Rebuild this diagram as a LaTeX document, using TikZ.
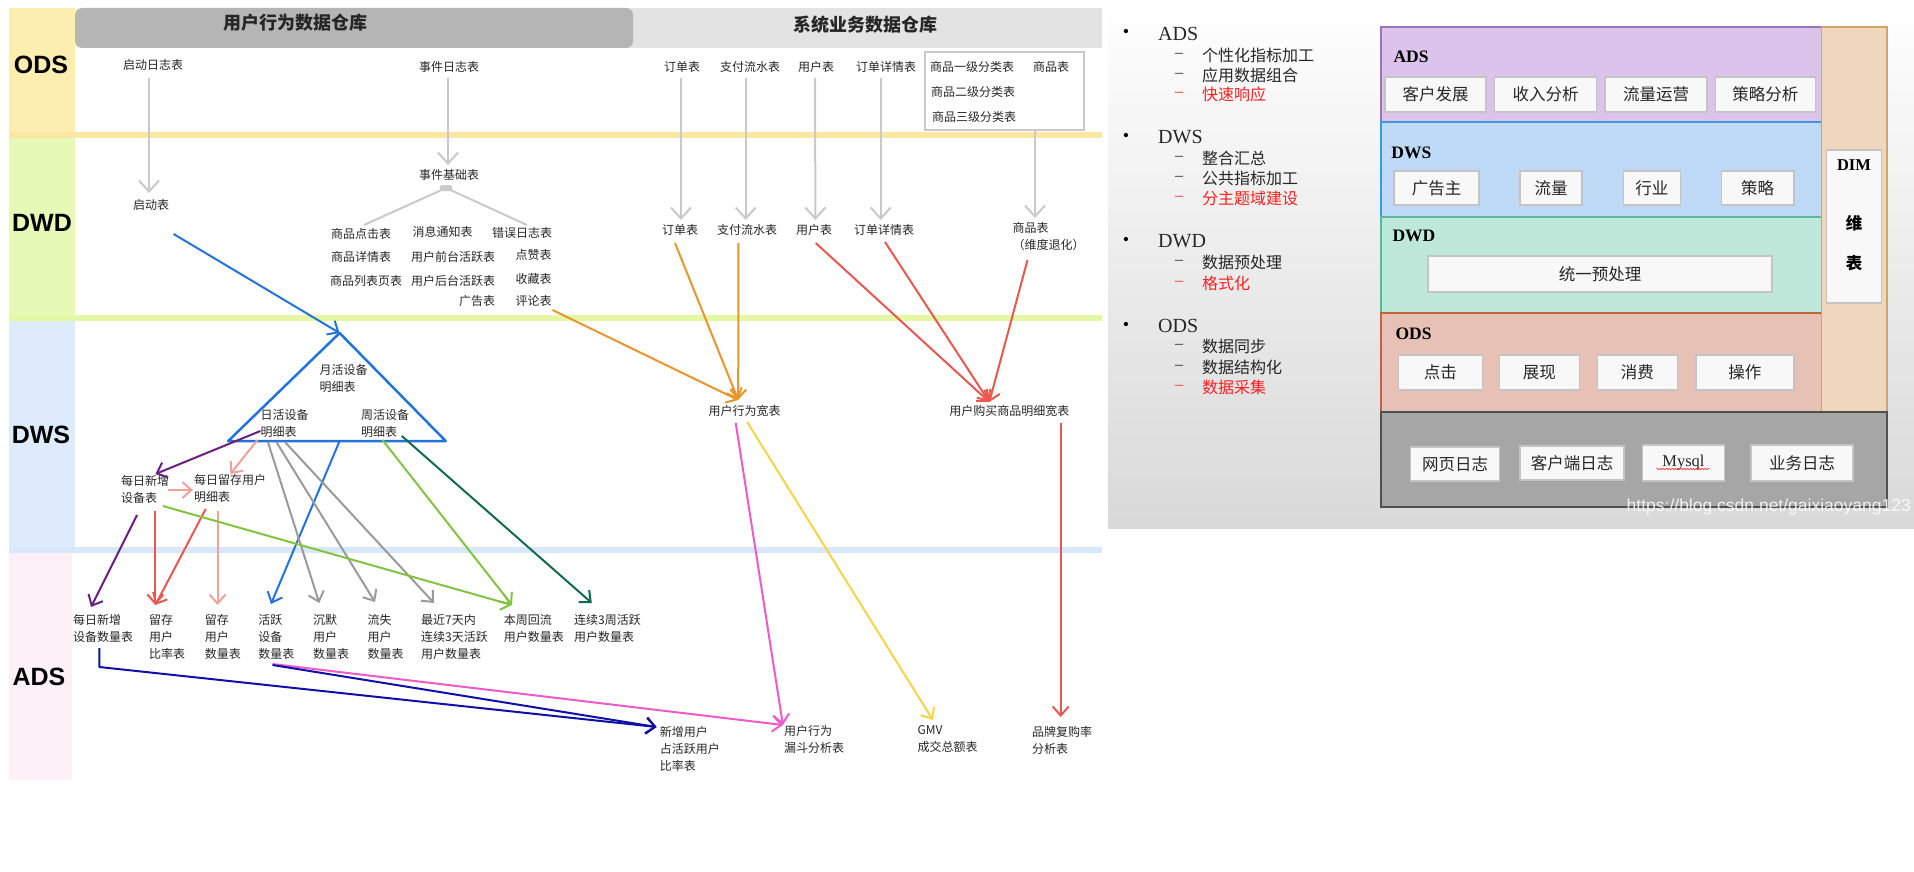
\documentclass[tikz,border=0pt]{standalone}
\usepackage{fontspec}
\setmainfont{Noto Sans CJK SC}
\newfontfamily\lsans{Liberation Sans}
\newfontfamily\lserif{Liberation Serif}
\usetikzlibrary{arrows.meta,decorations.pathmorphing,calc}
\definecolor{cgray}{HTML}{C9C9C9}
\definecolor{cgray2}{HTML}{9A9A9A}
\definecolor{cblue}{HTML}{2274DD}
\definecolor{cpurple}{HTML}{6B1F7F}
\definecolor{csalmon}{HTML}{F4A09A}
\definecolor{cred}{HTML}{E8584F}
\definecolor{cgreen}{HTML}{82C341}
\definecolor{cdkgreen}{HTML}{0E6B4C}
\definecolor{corange}{HTML}{E8952C}
\definecolor{cpink}{HTML}{EE5BC8}
\definecolor{cyellow}{HTML}{F5D547}
\definecolor{cnavy}{HTML}{1010A8}
\definecolor{bandods}{HTML}{FCEDB0}
\definecolor{banddwd}{HTML}{E6F9B6}
\definecolor{banddws}{HTML}{DDEBFA}
\definecolor{bandads}{HTML}{FDF0F6}
\definecolor{sepods}{HTML}{FAE7A1}
\definecolor{sepdwd}{HTML}{E3F7A5}
\definecolor{sepdws}{HTML}{D7E8FA}
\definecolor{hdark}{HTML}{B5B5B5}
\definecolor{hlight}{HTML}{E3E3E3}
\definecolor{lads}{HTML}{DCC3EC}
\definecolor{ladsb}{HTML}{9B72C0}
\definecolor{ldws}{HTML}{BFDAF6}
\definecolor{ldwsb}{HTML}{3D9AD8}
\definecolor{ldwd}{HTML}{BDE8DA}
\definecolor{ldwdb}{HTML}{5CB89C}
\definecolor{lods}{HTML}{E8C1B6}
\definecolor{lodsb}{HTML}{C0643A}
\definecolor{lsrc}{HTML}{A6A6A6}
\definecolor{lsrcb}{HTML}{505050}
\definecolor{ldim}{HTML}{EFD6BD}
\definecolor{ldimb}{HTML}{D2A465}
\definecolor{boxf}{HTML}{F8F8F8}
\definecolor{boxb}{HTML}{C4C4C4}
\definecolor{txtred}{HTML}{FF2020}
\tikzset{
  lbl/.style={font=\fontsize{12}{17}\selectfont, inner sep=3pt, text=black!85, align=left},
  layerlbl/.style={font=\lsans\bfseries\fontsize{25}{25}\selectfont, inner sep=0pt},
  hdr/.style={font=\bfseries\fontsize{18}{18}\selectfont, inner sep=0pt, text=black!85},
  garrow/.style={draw=cgray, line width=2pt, -{Straight Barb[length=11pt,width=20pt]}},
  carrow/.style={line width=2pt, -{Straight Barb[length=9pt,width=16pt]}},
  treeline/.style={draw=cgray, line width=2pt},
  sep/.style={line width=6pt},
  bul/.style={font=\lserif\fontsize{18}{18}\selectfont, inner sep=0pt},
  bhead/.style={font=\lserif\fontsize{20}{20}\selectfont, inner sep=0pt, anchor=west, text=black!85},
  bitem/.style={font=\fontsize{16}{16}\selectfont, inner sep=0pt, anchor=west, text=black!85},
  dsh/.style={font=\lserif\fontsize{16}{16}\selectfont, inner sep=0pt, text=black!85},
  llbl/.style={font=\lserif\bfseries\fontsize{17.5}{17.5}\selectfont, inner sep=0pt, anchor=west},
  ibox/.style={draw=boxb, fill=boxf, line width=1.5pt, inner sep=0pt, font=\fontsize{16.5}{16.5}\selectfont, text=black!85},
}
\begin{document}
\begin{tikzpicture}[x=1pt,y=-1pt]
\useasboundingbox (0,0) rectangle (1914,872);
\clip (0,0) rectangle (1914,872);
% ---------------- left diagram: bands ----------------
\fill[bandods] (9,8) rectangle (75,135);
\fill[banddwd] (9,135) rectangle (75,318);
\fill[banddws] (9,318) rectangle (75,550);
\fill[bandads] (9,550) rectangle (72,780);
\draw[sep, sepods] (9,135) -- (1102,135);
\draw[sep, sepdwd] (9,318) -- (1102,318);
\draw[sep, sepdws] (9,550) -- (1102,550);
\node[layerlbl] (lODS) at (41,65) {ODS};
\node[layerlbl] (lDWD) at (42,223) {DWD};
\node[layerlbl] (lDWS) at (41,435) {DWS};
\node[layerlbl] (lADS) at (39,677) {ADS};
% header bars
\fill[hlight] (620,8) rectangle (1102,48);
\fill[hdark, rounded corners=7pt] (75,8) rectangle (633,48);
\node[hdr] (h1) at (295,23) {用户行为数据仓库};
\node[hdr] (h2) at (865,25) {系统业务数据仓库};
% ---------------- ODS ----------------
\node[lbl] (o_qd) at (153,65) {启动日志表};
\node[lbl] (o_sj) at (449,67) {事件日志表};
\node[lbl] (o_dd) at (682,67) {订单表};
\node[lbl] (o_zf) at (750,67) {支付流水表};
\node[lbl] (o_yh) at (816,67) {用户表};
\node[lbl] (o_xq) at (886,67) {订单详情表};
\node[draw=cgray, line width=2pt, minimum width=159pt, minimum height=78pt, inner sep=0pt] (o_box) at (1004,91) {};
\node[lbl] (o_c1) at (972,67) {商品一级分类表};
\node[lbl] (o_sp) at (1051,67) {商品表};
\node[lbl] (o_c2) at (973,92) {商品二级分类表};
\node[lbl] (o_c3) at (974,117) {商品三级分类表};
% ---------------- DWD ----------------
\node[lbl] (d_qd) at (151,205) {启动表};
\node[lbl] (d_sj) at (449,175) {事件基础表};
\node[fill=cgray, inner sep=0pt, minimum width=13pt, minimum height=6pt, rounded corners=3pt] (blob) at (446,188) {};
\node[lbl] (e1) at (361,234) {商品点击表};
\node[lbl] (e2) at (442.5,232) {消息通知表};
\node[lbl] (e3) at (522,233) {错误日志表};
\node[lbl] (e4) at (361,257) {商品详情表};
\node[lbl] (e5) at (453,257) {用户前台活跃表};
\node[lbl] (e6) at (533.5,255) {点赞表};
\node[lbl] (e7) at (366,281) {商品列表页表};
\node[lbl] (e8) at (453,281) {用户后台活跃表};
\node[lbl] (e9) at (533.5,279) {收藏表};
\node[lbl] (e10) at (477,301) {广告表};
\node[lbl] (e11) at (533.5,301) {评论表};
\node[lbl] (d_dd) at (680,230) {订单表};
\node[lbl] (d_zf) at (747,230) {支付流水表};
\node[lbl] (d_yh) at (814,230) {用户表};
\node[lbl] (d_xq) at (884,230) {订单详情表};
\node[lbl, anchor=north west] (d_sp) at (1009.5,219.5) {商品表\\（维度退化）};
% ---------------- DWS ----------------
\coordinate (tA) at (339.6,333);
\coordinate (tB) at (228.2,441);
\coordinate (tC) at (445.7,441);
\coordinate (tM) at (339.6,441);
\draw[cblue, line width=2.5pt, line join=round] (tA) -- (tB) -- (tC) -- cycle;
\node[lbl, anchor=west] (s_mon) at (316.3,378) {月活设备\\明细表};
\node[lbl, anchor=west] (s_day) at (257.4,423) {日活设备\\明细表};
\node[lbl, anchor=west] (s_week) at (358,423) {周活设备\\明细表};
\node[lbl, anchor=west] (s_new) at (118,489.5) {每日新增\\设备表};
\node[lbl, anchor=west] (s_keep) at (191,488.5) {每日留存用户\\明细表};
\node[lbl] (w_beh) at (744.6,411) {用户行为宽表};
\node[lbl] (w_buy) at (1009.3,411) {用户购买商品明细宽表};
% ---------------- ADS ----------------
\node[lbl, anchor=north west] (a1) at (69.9,611) {每日新增\\设备数量表};
\node[lbl, anchor=north west] (a2) at (145.9,611) {留存\\用户\\比率表};
\node[lbl, anchor=north west] (a3) at (201.6,611) {留存\\用户\\数量表};
\node[lbl, anchor=north west] (a4) at (255.2,611) {活跃\\设备\\数量表};
\node[lbl, anchor=north west] (a5) at (309.9,611) {沉默\\用户\\数量表};
\node[lbl, anchor=north west] (a6) at (364.5,611) {流失\\用户\\数量表};
\node[lbl, anchor=north west] (a7) at (418,611) {最近7天内\\连续3天活跃\\用户数量表};
\node[lbl, anchor=north west] (a8) at (500.6,611) {本周回流\\用户数量表};
\node[lbl, anchor=north west] (a9) at (570.9,611) {连续3周活跃\\用户数量表};
\node[lbl, anchor=north west] (a10) at (656.6,723) {新增用户\\占活跃用户\\比率表};
\node[lbl, anchor=north west] (a11) at (780.9,722) {用户行为\\漏斗分析表};
\node[lbl, anchor=north west] (a12) at (914.5,722) {GMV\\成交总额表};
\node[lbl, anchor=north west] (a13) at (1029,723) {品牌复购率\\分析表};
% ---------------- connectors ----------------
\draw[garrow] ([xshift=-4pt,yshift=-13pt]o_qd.center) -- ([xshift=-2pt,yshift=12pt]d_qd.center);
\draw[garrow] ([xshift=-1pt,yshift=-11pt]o_sj.center) -- ([xshift=-1pt,yshift=10pt]d_sj.center);
\draw[garrow] ([xshift=-1pt,yshift=-11pt]o_dd.center) -- ([xshift=1pt,yshift=10pt]d_dd.center);
\draw[garrow] ([xshift=-4.3pt,yshift=-11pt]o_zf.center) -- ([xshift=-1.3pt,yshift=10pt]d_zf.center);
\draw[garrow] ([xshift=-1pt,yshift=-11pt]o_yh.center) -- ([xshift=1.4pt,yshift=10pt]d_yh.center);
\draw[garrow] ([xshift=-5.3pt,yshift=-11pt]o_xq.center) -- ([xshift=-3.3pt,yshift=10pt]d_xq.center);
\draw[garrow] ([xshift=31pt]o_box.south) -- ([xshift=25.5pt,yshift=1.5pt]d_sp.north west);
\draw[treeline] (blob.center) -- ([xshift=3pt,yshift=9pt]e1.center);
\draw[treeline] (blob.center) -- ([xshift=5pt,yshift=8pt]e3.center);
% blue
\draw[carrow, cblue] ([xshift=22.6pt,yshift=-29pt]d_qd.center) -- (tA);
\draw[carrow, cblue] (tM) -- ([xshift=15.8pt,yshift=7pt]a4.north west);
% purple
\draw[carrow, cpurple] ([xshift=3pt,yshift=-8pt]s_day.west) -- ([xshift=37.4pt,yshift=15.5pt]s_new.west);
\draw[carrow, cpurple] ([xshift=19.1pt,yshift=-25.5pt]s_new.west) -- ([xshift=21.1pt,yshift=4pt]a1.north west);
% salmon
\draw[carrow, csalmon] ([yshift=-17pt]s_day.west) -- ([xshift=39.4pt,yshift=14.5pt]s_keep.west);
\draw[carrow, csalmon] ([xshift=50.2pt,yshift=-0.5pt]s_new.west) -- ([xshift=1.9pt,yshift=-1.5pt]s_keep.west);
\draw[carrow, csalmon] ([xshift=26.5pt,yshift=-22.5pt]s_keep.west) -- ([xshift=15.9pt,yshift=6pt]a3.north west);
% red (left)
\draw[carrow, cred] ([xshift=37.4pt,yshift=-21.5pt]s_new.west) -- ([xshift=9.5pt,yshift=6pt]a2.north west);
\draw[carrow, cred] ([xshift=14.7pt,yshift=-20.5pt]s_keep.west) -- ([xshift=9.5pt,yshift=6pt]a2.north west);
% gray
\draw[carrow, cgray2] ([xshift=10.5pt,yshift=-19pt]s_day.west) -- ([xshift=9.4pt,yshift=8pt]a5.north west);
\draw[carrow, cgray2] ([xshift=19pt,yshift=-19pt]s_day.west) -- ([xshift=10.5pt,yshift=9pt]a6.north west);
\draw[carrow, cgray2] ([xshift=27.6pt,yshift=-19pt]s_day.west) -- ([xshift=16pt,yshift=8pt]a7.north west);
% green
\draw[carrow, cgreen] ([xshift=24.5pt,yshift=-17pt]s_week.west) -- ([xshift=11.4pt,yshift=6pt]a8.north west);
\draw[carrow, cgreen] ([xshift=44.9pt,yshift=-16.5pt]s_new.west) -- ([xshift=11.4pt,yshift=6pt]a8.north west);
\draw[carrow, cdkgreen] ([xshift=43.8pt,yshift=-13pt]s_week.west) -- ([xshift=20.9pt,yshift=8pt]a9.north west);
% orange
\draw[carrow, corange] ([xshift=-5pt,yshift=-13pt]d_dd.center) -- ([xshift=-6.4pt,yshift=11pt]w_beh.center);
\draw[carrow, corange] ([xshift=-8.6pt,yshift=-13pt]d_zf.center) -- ([xshift=-6.4pt,yshift=11pt]w_beh.center);
\draw[carrow, corange] ([xshift=19pt,yshift=-9pt]e11.center) -- ([xshift=-6.4pt,yshift=11pt]w_beh.center);
% red (right)
\draw[carrow, cred] ([xshift=1.7pt,yshift=-13pt]d_yh.center) -- ([xshift=-20pt,yshift=9pt]w_buy.center);
\draw[carrow, cred] ([xshift=1pt,yshift=-12pt]d_xq.center) -- ([xshift=-20pt,yshift=9pt]w_buy.center);
\draw[carrow, cred] ([xshift=18pt,yshift=-40.5pt]d_sp.north west) -- ([xshift=-20pt,yshift=9pt]w_buy.center);
\draw[carrow, cred] ([xshift=51.4pt,yshift=-12pt]w_buy.center) -- ([xshift=31.7pt,yshift=6pt]a13.north west);
% pink, yellow, navy
\draw[carrow, cpink] ([xshift=-8.9pt,yshift=-12pt]w_beh.center) -- ([xshift=2pt,yshift=-3pt]a11.north west);
\draw[carrow, cpink] ([xshift=17.3pt,yshift=-53pt]a4.north west) -- ([xshift=2pt,yshift=-3pt]a11.north west);
\draw[carrow, cyellow] ([xshift=2.5pt,yshift=-11pt]w_beh.center) -- ([xshift=18.4pt,yshift=2pt]a12.north west);
\draw[carrow, cnavy, line join=round] ([xshift=29.4pt,yshift=-37pt]a1.north west) -- ++(0,19) -- ([yshift=-4pt]a10.north west);
\draw[carrow, cnavy] ([xshift=17.3pt,yshift=-54pt]a4.north west) -- ([yshift=-4pt]a10.north west);
% ---------------- right panel ----------------
\shade[top color=white, bottom color=black!15] (1108,0) rectangle (1914,528);
% bullet list
\node[bul] (b1) at (1126,33) {•};
\node[bhead] (bh1) at (1158,34) {ADS};
\node[bul] (b2) at (1126,137) {•};
\node[bhead] (bh2) at (1158,137) {DWS};
\node[bul] (b3) at (1126,241) {•};
\node[bhead] (bh3) at (1158,241) {DWD};
\node[bul] (b4) at (1126,326) {•};
\node[bhead] (bh4) at (1158,326) {ODS};
\foreach \y/\t/\c/\n in {55/个性化指标加工/black!85/i1, 75/应用数据组合/black!85/i2, 94/快速响应/txtred/i3,
  158/整合汇总/black!85/i4, 178/公共指标加工/black!85/i5, 198/分主题域建设/txtred/i6,
  262/数据预处理/black!85/i7, 283/格式化/txtred/i8,
  346/数据同步/black!85/i9, 367/数据结构化/black!85/i10, 387/数据采集/txtred/i11}{
  \node[dsh, text=\c] (d\n) at (1179,\y) {–};
  \node[bitem, text=\c] (\n) at (1202,\y) {\t};
}
% layer boxes
\draw[fill=lads, draw=ladsb, line width=1.5pt] (1381,27) rectangle (1821.5,122);
\draw[fill=ldws, draw=ldwsb, line width=1.5pt] (1381,122) rectangle (1821.5,217);
\draw[fill=ldwd, draw=ldwdb, line width=1.5pt] (1381,217) rectangle (1821.5,313);
\draw[fill=lods, draw=lodsb, line width=1.5pt] (1381,313) rectangle (1821.5,412);
\draw[fill=ldim, draw=ldimb, line width=1.5pt] (1821.5,27) rectangle (1887,412);
\draw[fill=lsrc, draw=lsrcb, line width=1.5pt] (1381,412) rectangle (1887,507);
\node[llbl] (x_ads) at (1393.3,57) {ADS};
\node[llbl] (x_dws) at (1391.2,153) {DWS};
\node[llbl] (x_dwd) at (1392.3,236) {DWD};
\node[llbl] (x_ods) at (1395.3,334) {ODS};
% ADS boxes
\node[ibox, minimum width=101pt, minimum height=35pt] (k1) at (1435.7,94.5) {客户发展};
\node[ibox, minimum width=102pt, minimum height=35pt] (k2) at (1545.5,94.5) {收入分析};
\node[ibox, minimum width=102pt, minimum height=35pt] (k3) at (1656,94.5) {流量运营};
\node[ibox, minimum width=100pt, minimum height=35pt] (k4) at (1765.3,94.5) {策略分析};
% DWS boxes
\node[ibox, minimum width=85pt, minimum height=34pt] (m1) at (1436.7,188) {广告主};
\node[ibox, minimum width=62pt, minimum height=34pt] (m2) at (1551.2,188) {流量};
\node[ibox, minimum width=57pt, minimum height=34pt] (m3) at (1651.8,188) {行业};
\node[ibox, minimum width=72.5pt, minimum height=34pt] (m4) at (1757.6,188) {策略};
% DWD box
\node[ibox, minimum width=344pt, minimum height=36pt] (p1) at (1600.2,274) {统一预处理};
% ODS boxes
\node[ibox, minimum width=84pt, minimum height=35pt] (q1) at (1440.3,372.5) {点击};
\node[ibox, minimum width=80pt, minimum height=35pt] (q2) at (1539.4,372.5) {展现};
\node[ibox, minimum width=80pt, minimum height=35pt] (q3) at (1637.4,372.5) {消费};
\node[ibox, minimum width=98pt, minimum height=35pt] (q4) at (1744.8,372.5) {操作};
% source boxes
\node[ibox, minimum width=89pt, minimum height=34pt] (r1) at (1455.1,464) {网页日志};
\node[ibox, minimum width=104pt, minimum height=34pt] (r2) at (1572.1,463) {客户端日志};
\node[ibox, minimum width=82pt, minimum height=36pt, font=\lserif\fontsize{16.5}{16.5}\selectfont] (r3) at (1683.4,463) {Mysql};
\node[ibox, minimum width=102pt, minimum height=36pt] (r4) at (1802,463) {业务日志};
\draw[red!80, line width=0.6pt, decorate, decoration={snake, amplitude=0.7pt, segment length=3pt}] ([xshift=-27pt,yshift=-6pt]r3.center) -- ([xshift=26pt,yshift=-6pt]r3.center);
% DIM
\node[draw=boxb, fill=boxf, line width=1.5pt, minimum width=55pt, minimum height=153pt, inner sep=0pt] (dimbox) at (1854,226.5) {};
\node[font=\lserif\bfseries\fontsize{16.5}{16.5}\selectfont, inner sep=0pt] (dimt) at (1854,165) {DIM};
\node[font=\bfseries\fontsize{16.5}{16.5}\selectfont, inner sep=0pt] (dim1) at (1854,223) {维};
\node[font=\bfseries\fontsize{16.5}{16.5}\selectfont, inner sep=0pt] (dim2) at (1854,263) {表};
% watermark
\node[anchor=east, inner sep=0pt, text=white, opacity=0.85, font=\lsans\fontsize{17.5}{17.5}\selectfont] (wm) at (1911,507) {https://blog.csdn.net/gaixiaoyang123};
\end{tikzpicture}
\end{document}
